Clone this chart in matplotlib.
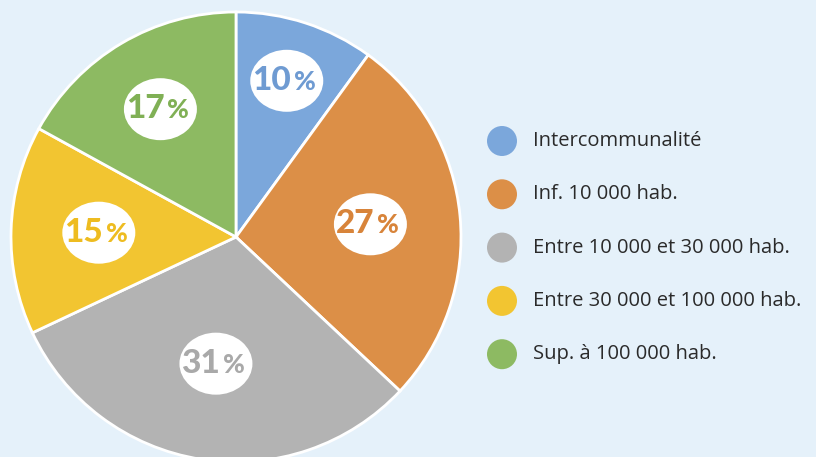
import numpy as np
import matplotlib.pyplot as plt
from matplotlib.patches import Ellipse, Circle

labels = ["Intercommunalité", "Inf. 10 000 hab.", "Entre 10 000 et 30 000 hab.",
          "Entre 30 000 et 100 000 hab.", "Sup. à 100 000 hab."]
values = [10, 27, 31, 15, 17]
colors = ["#7ba7db", "#dc8f47", "#b3b3b3", "#f2c531", "#8dba62"]
text_colors = ["#6f9bd2", "#d8843a", "#a9a9a9", "#eebc20", "#80b055"]
label_r = [0.73, 0.60, 0.57, 0.61, 0.66]

W, H = 816, 457
fig = plt.figure(figsize=(W / 100, H / 100), dpi=100)
fig.patch.set_facecolor("#e5f1fa")
ax = fig.add_axes([0, 0, 1, 1])

cx, cy, R = 236, H - 237, 225
wedges, _ = ax.pie(values, colors=colors, startangle=90, counterclock=False,
                   center=(cx, cy), radius=R, frame=True,
                   wedgeprops=dict(edgecolor="white", linewidth=2))
ax.set_xlim(0, W)
ax.set_ylim(0, H)
ax.set_aspect("equal")
ax.axis("off")

for w, v, tc, fr in zip(wedges, values, text_colors, label_r):
    ang = np.deg2rad((w.theta1 + w.theta2) / 2)
    x = cx + fr * R * np.cos(ang)
    y = cy + fr * R * np.sin(ang)
    ax.add_patch(Ellipse((x, y), 73, 62, facecolor="white", edgecolor="none", zorder=3))
    ax.text(x + 4, y - 9, str(v), ha="right", va="baseline", fontsize=24,
            fontweight="black", color=tc, family="Lato", zorder=4)
    ax.text(x + 7, y - 9, "%", ha="left", va="baseline", fontsize=19,
            fontweight="black", color=tc, family="Lato", zorder=4)

# legend
for i, (lab, col) in enumerate(zip(labels, colors)):
    ly = H - (141 + i * 53.3)
    ax.add_patch(Circle((502, ly), 15, facecolor=col, edgecolor="none"))
    ax.text(533, ly, lab, ha="left", va="center", fontsize=14.5,
            color="#2a2a2a", family="Open Sans")

fig.savefig("out.png", dpi=100, facecolor=fig.get_facecolor())
